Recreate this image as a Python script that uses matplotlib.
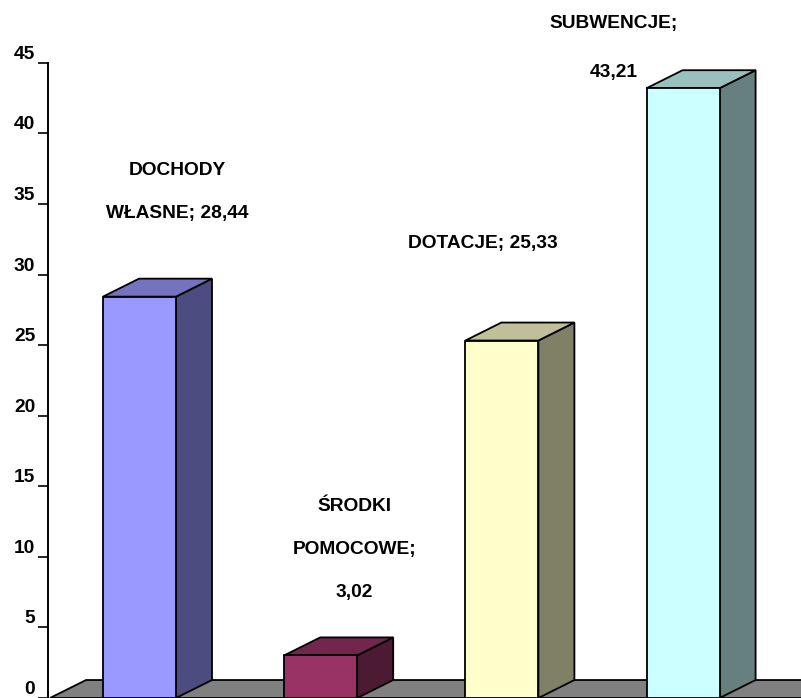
import matplotlib
matplotlib.use("Agg")
import matplotlib.pyplot as plt
from matplotlib.patches import Polygon

# Data
categories = ["DOCHODY\nWŁASNE", "ŚRODKI\nPOMOCOWE", "DOTACJE", "SUBWENCJE"]
values = [28.44, 3.02, 25.33, 43.21]
separators = ["; ", ";\n", "; ", ";\n"]   # how name and value are joined in the label
y_ticks = [0, 5, 10, 15, 20, 25, 30, 35, 40, 45]

# Colours (front, top, side) like the old Excel 3D bars
front_colors = ["#9999FF", "#993366", "#FFFFCC", "#CCFFFF"]
top_colors = ["#7373C0", "#73264D", "#BFBF99", "#99BFBF"]
side_colors = ["#4C4C80", "#4D1A33", "#808066", "#668080"]
floor_color = "#808080"

# Layout (pixels)
W, H = 801, 698
PX_CAT = 181.2        # px between bar centres
PX_VAL = 14.133       # px per value unit
X0_PX = 139.5         # px of first bar centre
Y0_PX = 699           # px (from top) of value 0
BAR_W = 73 / PX_CAT
DX = 36 / PX_CAT      # depth offset
DY = 18 / PX_VAL
AXIS_X = (48 - X0_PX) / PX_CAT
FONT = "Liberation Sans"
FS = 13.8

# label offsets (px, from bar front-top centre) and line spacing
label_off = [(37.5, 79), (33.5, 58), (-19.5, 93), (-69, 11)]
line_gap = [43, 43, 43, 49]

fig = plt.figure(figsize=(W / 100, H / 100), dpi=100)
ax = fig.add_axes([0, 0, 1, 1])
ax.set_xlim(-X0_PX / PX_CAT, (W - X0_PX) / PX_CAT)
ax.set_ylim((Y0_PX - H) / PX_VAL, Y0_PX / PX_VAL)

# floor
xs = (50 - X0_PX) / PX_CAT
xr = ax.get_xlim()[1] + 1
ax.add_patch(Polygon([(xs, 0), (xr, 0), (xr + DX, DY), (xs + DX, DY)],
                     closed=True, fc=floor_color, ec="black", lw=1.3, zorder=1))

# bars
for i, v in enumerate(values):
    l, r = i - BAR_W / 2, i + BAR_W / 2
    front = [(l, 0), (r, 0), (r, v), (l, v)]
    top = [(l, v), (r, v), (r + DX, v + DY), (l + DX, v + DY)]
    side = [(r, 0), (r + DX, DY), (r + DX, v + DY), (r, v)]
    for pts, c in [(side, side_colors[i]), (top, top_colors[i]), (front, front_colors[i])]:
        ax.add_patch(Polygon(pts, closed=True, fc=c, ec="black", lw=1.3,
                             joinstyle="miter", zorder=2))

    # data labels
    val = f"{v:.2f}".replace(".", ",")
    lines = (categories[i] + separators[i] + val).split("\n")
    ox, oy = label_off[i]
    n = len(lines)
    for k, line in enumerate(lines):
        yy = oy + (n - 1 - k) * line_gap[i]
        ax.annotate(line, xy=(i, v), xytext=(ox * 0.72, yy * 0.72),
                    textcoords="offset points", ha="center", va="baseline",
                    fontsize=FS, fontweight="bold", family=FONT, zorder=5)

# y axis
for s in ["top", "right", "bottom"]:
    ax.spines[s].set_visible(False)
ax.spines["left"].set_position(("data", AXIS_X))
ax.spines["left"].set_bounds(0, 45)
ax.spines["left"].set_linewidth(1.4)
ax.spines["left"].set_zorder(3)
ax.set_xticks([])
ax.set_yticks(y_ticks)
ax.set_yticklabels([str(t) for t in y_ticks])
ax.tick_params(axis="y", direction="out", length=7.2, width=1.2, pad=2)
for lab in ax.get_yticklabels():
    lab.set_fontsize(FS)
    lab.set_fontweight("bold")
    lab.set_family(FONT)
    lab.set_va("bottom")

fig.savefig("out.png", dpi=100)
